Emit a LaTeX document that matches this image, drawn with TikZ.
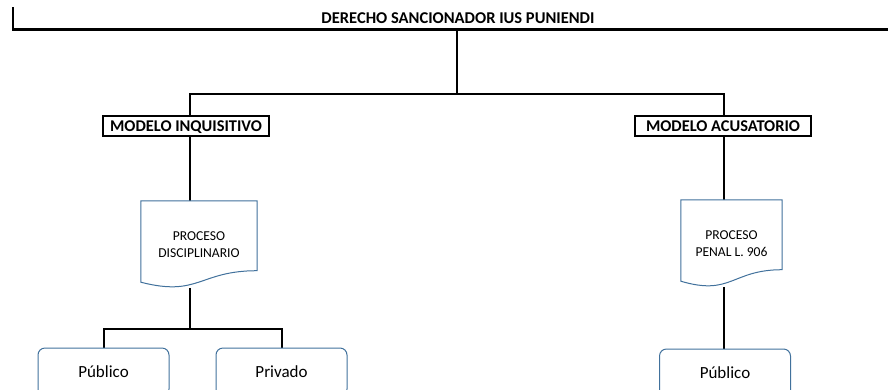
\documentclass[tikz,border=0pt]{standalone}
\usepackage{fontspec}
\setmainfont{Carlito}
\usetikzlibrary{backgrounds}

\definecolor{shapeblue}{HTML}{41719C}

\begin{document}
\begin{tikzpicture}[x=1pt, y=-1pt,
	branch/.style={line width=2pt},
	titletext/.style={inner sep=0pt, font=\bfseries\fontsize{16.5}{19}\selectfont,
		text height=10.6pt, text depth=0pt},
	modelbox/.style={draw, line width=2pt, inner sep=0pt, minimum height=20,
		font=\bfseries\fontsize{16.4}{19}\selectfont, text height=10.5pt, text depth=0pt},
	docbox/.style={inner sep=0pt, minimum height=86.7, align=center,
		font=\fontsize{13.6}{17}\selectfont},
	docline/.style={draw=shapeblue, line width=1pt, fill=white},
	leafbox/.style={draw=shapeblue, line width=1pt, rounded corners=7pt, inner sep=0pt,
		minimum width=131, minimum height=48, font=\fontsize{17}{20}\selectfont}]

\def\width{888}
\def\height{389}
\path [use as bounding box] (0,0) rectangle (\width,\height);

% TITLE
\node [titletext] (title) at (458,18.5) {DERECHO SANCIONADOR IUS PUNIENDI};
\coordinate (tl) at (13,7);
\coordinate (tr) at (\width,29.5);
\coordinate (root) at (457,29.5);
\coordinate (ltr) at (190,94);
\coordinate (rtr) at (724,94);
\coordinate (lsplit) at (190,329);

% MODELS
\node [modelbox, minimum width=166] (inq) at (186,126) {MODELO INQUISITIVO};
\node [modelbox, minimum width=176] (acu) at (723,126) {MODELO ACUSATORIO};

% PROCESSES
\node [docbox, minimum width=116] (dis) at (199,244.35) {PROCESO\\DISCIPLINARIO};
\node [docbox, minimum width=101] (pen) at (731.5,243.35) {PROCESO\\PENAL L. 906};

% LEAVES
\node [leafbox] (pub1) at (103.5,372) {Público};
\node [leafbox] (priv) at (281.5,372) {Privado};
\node [leafbox] (pub2) at (725,373) {Público};

\begin{scope}[on background layer]
% CONNECTORS
\draw [branch, line width=2.5pt] (tl) |- (tr);
\draw [branch] (root) -- (root |- ltr);
\draw [branch] (inq.north -| ltr) -- (ltr) -- (rtr) -- (acu.north -| rtr);
\draw [branch] (inq.south -| ltr) -- (dis.north -| ltr);
\draw [branch] (acu.south -| rtr) -- (pen.north -| rtr);
\draw [branch] (dis.south -| ltr) -- (lsplit);
\draw [branch] (pub1.north) |- (lsplit) -| (priv.north);
\draw [branch] (pen.south -| rtr) -- (pub2.north -| rtr);

% DOCUMENT OUTLINES
\foreach \docname in {dis,pen}
	\draw [docline] ([yshift=17.2]\docname.south east) -- (\docname.north east)
		-- (\docname.north west) -- ([yshift=5.7]\docname.south west)
		.. controls ([yshift=-9.3]\docname.south) and ([yshift=17.2]\docname.south)
		.. ([yshift=17.2]\docname.south east) -- cycle;
\end{scope}

\end{tikzpicture}
\end{document}
